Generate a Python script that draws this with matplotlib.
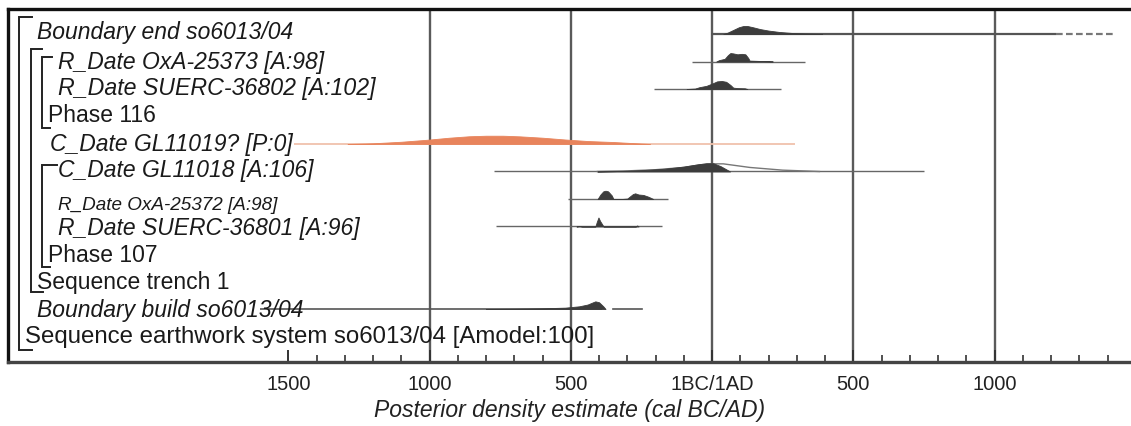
import matplotlib
matplotlib.use('Agg')
import matplotlib.pyplot as plt
from matplotlib.lines import Line2D
import matplotlib.transforms as mtransforms

# ---------------- data ----------------
row_labels = ["Boundary end so6013/04", "R_Date OxA-25373 [A:98]", "R_Date SUERC-36802 [A:102]",
              "Phase 116", "C_Date GL11019? [P:0]", "C_Date GL11018 [A:106]",
              "R_Date OxA-25372 [A:98]", "R_Date SUERC-36801 [A:96]", "Phase 107",
              "Sequence trench 1", "Boundary build so6013/04",
              "Sequence earthwork system so6013/04 [Amodel:100]"]
row_italic = [True, True, True, False, True, True, True, True, False, False, True, False]

tick_years = [-1500, -1000, -500, 0, 500, 1000]
tick_labels = ["1500", "1000", "500", "1BC/1AD", "500", "1000"]
grid_years = [-1000, -500, 0, 500, 1000]
xlabel = "Posterior density estimate (cal BC/AD)"

# posterior distributions (cal year, relative density)
be_years = [40, 55, 75, 95, 110, 125, 145, 170, 200, 240, 290, 340, 390]
be_dens = [0, 0.15, 0.45, 0.75, 0.88, 0.89, 0.75, 0.55, 0.38, 0.22, 0.1, 0.04, 0]
be_range = [-5, 1217]
be_range_dashed = [1217, 1429]

oxa73_years = [15, 25, 45, 56, 65, 75, 90, 105, 118, 128, 133, 180, 215]
oxa73_dens = [0, 0.15, 0.3, 0.7, 0.94, 0.9, 0.8, 0.85, 0.8, 0.4, 0.1, 0.05, 0]
oxa73_range = [-71, 328]

su02_years = [-90, -60, -45, -20, 0, 18, 35, 50, 65, 75, 90, 116, 125]
su02_dens = [0, 0.05, 0.2, 0.35, 0.6, 0.85, 0.89, 0.8, 0.45, 0.15, 0.1, 0.08, 0]
su02_range = [-205, 243]

gl19_years = [-1290, -1200, -1100, -1005, -930, -860, -800, -740, -680, -600, -520, -440, -349, -280, -219]
gl19_dens = [0, 0.08, 0.25, 0.48, 0.7, 0.86, 0.92, 0.92, 0.85, 0.7, 0.5, 0.33, 0.22, 0.1, 0]
gl19_range = [-1478, 293]

gl18_years = [-406, -330, -250, -170, -100, -50, -20, 4, 30, 50, 64]
gl18_dens = [0, 0.05, 0.15, 0.3, 0.55, 0.8, 0.92, 0.92, 0.6, 0.25, 0]
gl18_prior_years = [-406, -300, -200, -100, -40, 0, 40, 134, 250, 380]
gl18_prior_dens = [0, 0.07, 0.2, 0.45, 0.75, 0.85, 0.85, 0.45, 0.15, 0]
gl18_range = [-772, 751]

oxa72_years = [-405, -395, -385, -377, -368, -355, -349, -320, -300, -290, -280, -272, -260, -243, -225, -208]
oxa72_dens = [0, 0.5, 0.85, 0.92, 0.85, 0.4, 0, 0, 0.05, 0.3, 0.55, 0.63, 0.5, 0.45, 0.25, 0]
oxa72_range = [-511, -155]

su01_years = [-480, -470, -460, -413, -408, -402, -396, -390, -384, -270, -265, -260]
su01_dens = [0, 0.06, 0, 0, 0.5, 1.0, 0.6, 0.3, 0, 0, 0.12, 0]
su01_range = [-765, -176]

bb_years = [-800, -700, -600, -520, -470, -440, -425, -413, -400, -385, -377]
bb_dens = [0, 0.03, 0.08, 0.15, 0.3, 0.5, 0.7, 0.85, 0.75, 0.3, 0]
bb_range = [-1600, -390]
bb_range2 = [-349, -247]

# ---------------- layout ----------------
W, H = 1131, 426
plt.rcParams['font.family'] = ['Liberation Sans', 'DejaVu Sans']
fig = plt.figure(figsize=(W / 100, H / 100), dpi=100)
fig.patch.set_facecolor('white')

left_px, top_px, bottom_px = 8, 9, 362
ax = fig.add_axes([left_px / W, 1 - bottom_px / H, 1 - left_px / W, (bottom_px - top_px) / H])
row0, drow = 34, 27.5
ax.set_xlim(-2492, 1483)
ax.set_ylim((bottom_px - row0) / drow, (top_px - row0) / drow)

ax.spines['right'].set_visible(False)
ax.spines['top'].set_linewidth(2.4)
ax.spines['left'].set_linewidth(2.4)
ax.spines['top'].set_color('#111111')
ax.spines['left'].set_color('#111111')
ax.spines['bottom'].set_linewidth(2.4)
ax.spines['bottom'].set_color('#444444')

ax.set_yticks([])
ax.set_xticks(tick_years)
ax.set_xticklabels(tick_labels, fontsize=14.5, color='#222222')
ax.set_xticks(list(range(-1500, 1481, 100)), minor=True)
ax.tick_params(axis='x', which='major', direction='in', length=9, width=1.4, color='#333333', pad=9)
ax.tick_params(axis='x', which='minor', direction='in', length=5, width=1.2, color='#333333')
ax.set_xlabel(xlabel, fontsize=16.5, style='italic', color='#222222', labelpad=4)

for g in grid_years:
    ax.axvline(g, color='#5a5a5a', lw=1.7, zorder=1)

HD = 9.0 / drow  # peak height in row units


def dist(row, years, dens, rng, color='#3c3c3c', line='#666666', lw=1.0):
    ax.plot(rng, [row, row], color=line, lw=lw, zorder=2, solid_capstyle='butt')
    ax.fill_between(years, [row] * len(years), [row - d * HD for d in dens],
                    color=color, lw=0.6, edgecolor=color, zorder=3)


dist(0, be_years, be_dens, be_range, line='#555555', lw=1.6)
ax.plot(be_range_dashed, [0, 0], color='#777777', lw=1.6, ls=(0, (3, 1.5)), zorder=2)
dist(1, oxa73_years, oxa73_dens, oxa73_range)
dist(2, su02_years, su02_dens, su02_range)
dist(4, gl19_years, gl19_dens, gl19_range, color='#e8845c', line='#f0c2ac', lw=1.3)
ax.plot(gl18_prior_years, [5 - d * HD for d in gl18_prior_dens], color='#777777', lw=1.0, zorder=3)
dist(5, gl18_years, gl18_dens, gl18_range)
dist(6, oxa72_years, oxa72_dens, oxa72_range)
dist(7, su01_years, su01_dens, su01_range)
dist(10, bb_years, bb_dens, bb_range, line='#555555', lw=1.2)
ax.plot(bb_range2, [10, 10], color='#555555', lw=1.2, zorder=2)

# ---------------- labels & brackets (figure pixel layout) ----------------
pix = mtransforms.Affine2D().scale(1.0 / W, -1.0 / H).translate(0, 1) + fig.transFigure

label_x = [37, 58, 58, 48, 50, 58, 58, 58, 48, 37, 37, 25]
label_y = [33, 62, 89, 116, 144, 170, 206, 228, 255, 282, 310, 337]
label_size = [16.5, 16.5, 16.7, 16.5, 16.5, 16.5, 13.6, 16.5, 16.5, 16.5, 16.5, 17.3]
for t, it, x, y, fs in zip(row_labels, row_italic, label_x, label_y, label_size):
    fig.text(x, y, t, transform=pix, fontsize=fs, style='italic' if it else 'normal',
             va='center', ha='left', color='#1a1a1a', zorder=5)

brackets = [  # (x, y_top, y_bottom, top_tick_end, bottom_tick_end)
    (19, 17, 350, 32, 32),
    (31, 49, 292, 42, 43),
    (42, 57, 128, 52, 50),
    (42, 165, 267, 57, 50),
]
for x, yt, yb, xt, xb in brackets:
    fig.add_artist(Line2D([xt, x, x, xb], [yt, yt, yb, yb], transform=pix,
                          color='#222222', lw=1.4, solid_joinstyle='miter'))

fig.savefig('out.png', dpi=100, facecolor='white')
